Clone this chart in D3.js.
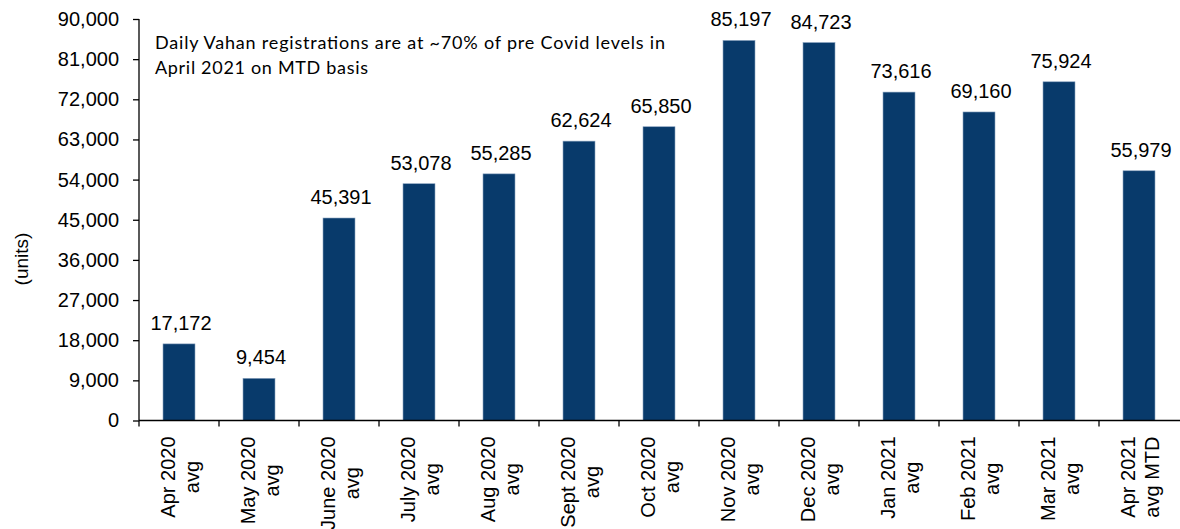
<!DOCTYPE html>
<html>
<head>
<meta charset="utf-8">
<script src="https://cdn.jsdelivr.net/npm/d3@7"></script>
<style>
  body { margin: 0; background: #fff; }
  svg text { font-family: "Liberation Sans", Arial, sans-serif; fill: #000; }
</style>
</head>
<body>
<div id="chart"></div>
<script>
// chart data
const months = ["Apr 2020", "May 2020", "June 2020", "July 2020", "Aug 2020", "Sept 2020", "Oct 2020",
  "Nov 2020", "Dec 2020", "Jan 2021", "Feb 2021", "Mar 2021", "Apr 2021"];
const suffixes = ["avg", "avg", "avg", "avg", "avg", "avg", "avg", "avg", "avg", "avg", "avg", "avg", "avg MTD"];
const registrations = [17172, 9454, 45391, 53078, 55285, 62624, 65850, 85197, 84723, 73616, 69160, 75924, 55979];
const yTicks = [0, 9000, 18000, 27000, 36000, 45000, 54000, 63000, 72000, 81000, 90000];
const noteLines = ["Daily Vahan registrations are at ~70% of pre Covid levels in", "April 2021 on MTD basis"];

const width = 1180, height = 529;
const margin = { top: 19, left: 139, right: 1, bottom: 108 };
const barColor = "#083a6b";

const svg = d3.select("#chart").append("svg")
  .attr("width", width).attr("height", height);

const x = d3.scaleBand()
  .domain(months)
  .range([margin.left, width - margin.right])
  .paddingInner(0.6)
  .paddingOuter(0.3);

const y = d3.scaleLinear()
  .domain([0, 90000])
  .range([height - margin.bottom - 0.5, margin.top]);

// bars
svg.append("g")
  .selectAll("rect")
  .data(registrations)
  .join("rect")
  .attr("x", (d, i) => x(months[i]))
  .attr("y", d => y(d))
  .attr("width", x.bandwidth())
  .attr("height", d => y(0) - y(d))
  .attr("fill", barColor)
  .attr("stroke", "#8aa3c0")
  .attr("stroke-width", 0.6);

// value labels
svg.append("g")
  .selectAll("text")
  .data(registrations)
  .join("text")
  .attr("x", (d, i) => x(months[i]) + x.bandwidth() / 2 + 2)
  .attr("y", d => y(d) - 14)
  .attr("text-anchor", "middle")
  .style("font-size", "20px")
  .text(d => d3.format(",")(d));

// y axis
const yAxis = svg.append("g")
  .attr("transform", `translate(${margin.left},0)`)
  .call(d3.axisLeft(y).tickValues(yTicks).tickFormat(d3.format(",")).tickSize(6).tickPadding(14));
yAxis.select(".domain").attr("d", `M0,${y(90000)}V${y(0)}`).attr("stroke-width", 1.3);
yAxis.selectAll(".tick line").attr("stroke-width", 1.3);
yAxis.selectAll("text").style("font-size", "20px").attr("font-family", "Liberation Sans, Arial, sans-serif");

// x axis line and ticks at band edges
const step = x.step();
const edges = d3.range(months.length).map(i => x(months[i]) - x.paddingOuter() * step);
const xg = svg.append("g");
xg.append("line")
  .attr("x1", margin.left).attr("x2", width)
  .attr("y1", y(0)).attr("y2", y(0))
  .attr("stroke", "#000").attr("stroke-width", 1.3);
xg.selectAll(".xtick")
  .data(edges)
  .join("line")
  .attr("class", "xtick")
  .attr("x1", d => d).attr("x2", d => d)
  .attr("y1", y(0)).attr("y2", y(0) + 6)
  .attr("stroke", "#000").attr("stroke-width", 1.3);

// x labels: rotated two-line blocks anchored just below the axis
const labelTop = y(0) + 16;
months.forEach((m, i) => {
  const c = x(m) + x.bandwidth() / 2;
  const g = xg.append("g");
  const t = g.append("text")
    .attr("text-anchor", "middle")
    .style("font-size", "20px");
  t.append("tspan").attr("x", 0).attr("y", -4.5).text(m);
  t.append("tspan").attr("x", 0).attr("y", 19.5).text(suffixes[i]);
  let maxLen = 0;
  t.selectAll("tspan").each(function () {
    maxLen = Math.max(maxLen, this.getComputedTextLength());
  });
  g.attr("transform", `translate(${c},${labelTop + maxLen / 2}) rotate(-90)`);
});

// y axis title
svg.append("text")
  .attr("transform", `translate(28,259) rotate(-90)`)
  .attr("text-anchor", "middle")
  .style("font-size", "19px")
  .text("(units)");

// note text
const note = svg.append("text")
  .style("font-family", "Lato, 'Open Sans', sans-serif")
  .style("font-size", "18px");
note.append("tspan").attr("x", 155).attr("y", 49)
  .attr("textLength", 510).attr("lengthAdjust", "spacing").text(noteLines[0]);
note.append("tspan").attr("x", 155).attr("y", 74)
  .attr("textLength", 213).attr("lengthAdjust", "spacing").text(noteLines[1]);
</script>
</body>
</html>
